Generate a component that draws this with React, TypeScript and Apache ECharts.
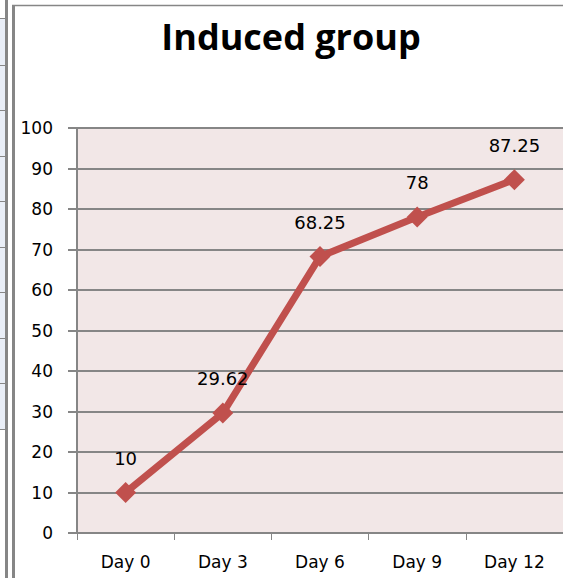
import React, { useEffect, useRef } from "react";
import * as echarts from "echarts";

const categories = ["Day 0", "Day 3", "Day 6", "Day 9", "Day 12"];
const values = [10, 29.62, 68.25, 78, 87.25];
const titleText = "Induced group";

const GREY = "#868686";
const LABEL_FONT = "DejaVu Sans";

export default function App() {
  const ref = useRef<HTMLDivElement>(null);
  useEffect(() => {
    if (!ref.current) return;
    const chart = echarts.init(ref.current, null, { renderer: "svg" });
    const leftLines = [18, 65, 110, 156, 201, 247, 292, 338, 383, 429];
    chart.setOption({
      animation: false,
      backgroundColor: "#ffffff",
      title: {
        text: titleText,
        left: 286,
        top: 13,
        textAlign: "center",
        textStyle: {
          fontFamily: "Open Sans",
          fontWeight: "bold",
          fontSize: 36,
          color: "#000",
        },
      },
      graphic: [
        { type: "rect", shape: { x: 0, y: 18, width: 6, height: 411 }, style: { fill: "#e9eef7" }, silent: true },
        ...leftLines.map((y) => ({
          type: "line",
          shape: { x1: 0, y1: y + 0.5, x2: 6, y2: y + 0.5 },
          style: { stroke: GREY, lineWidth: 1 },
          silent: true,
        })),
        { type: "line", shape: { x1: 6.5, y1: 0, x2: 6.5, y2: 578 }, style: { stroke: GREY, lineWidth: 3 }, silent: true },
        { type: "line", shape: { x1: 13.5, y1: 5, x2: 13.5, y2: 578 }, style: { stroke: GREY, lineWidth: 3 }, silent: true },
        { type: "line", shape: { x1: 12, y1: 5.5, x2: 563, y2: 5.5 }, style: { stroke: GREY, lineWidth: 1.5 }, silent: true },
      ],
      grid: {
        left: 77,
        right: -1,
        top: 128,
        bottom: 45,
        show: true,
        backgroundColor: "#f2e7e7",
        borderWidth: 0,
      },
      xAxis: {
        type: "category",
        data: categories,
        boundaryGap: true,
        axisLine: { show: true, lineStyle: { color: GREY, width: 2 } },
        axisTick: { show: true, length: 7, lineStyle: { color: GREY, width: 1 } },
        axisLabel: { fontFamily: LABEL_FONT, fontSize: 17, color: "#000", margin: 20 },
        splitLine: { show: false },
      },
      yAxis: {
        type: "value",
        min: 0,
        max: 100,
        interval: 10,
        axisLine: { show: true, lineStyle: { color: GREY, width: 2 } },
        axisTick: { show: true, length: 9, lineStyle: { color: GREY, width: 2 } },
        axisLabel: { fontFamily: LABEL_FONT, fontSize: 17, color: "#000", margin: 24 },
        splitLine: { show: true, lineStyle: { color: GREY, width: 2 } },
      },
      series: [
        {
          type: "line",
          data: values,
          symbol: "diamond",
          symbolSize: 21,
          lineStyle: { color: "#c0504d", width: 7 },
          itemStyle: { color: "#c0504d" },
          label: {
            show: true,
            position: "top",
            distance: 15,
            fontFamily: LABEL_FONT,
            fontSize: 18,
            color: "#000",
          },
        },
      ],
    });
    return () => chart.dispose();
  }, []);
  return <div ref={ref} style={{ width: 563, height: 578, position: "absolute", left: 0, top: 0 }} />;
}
